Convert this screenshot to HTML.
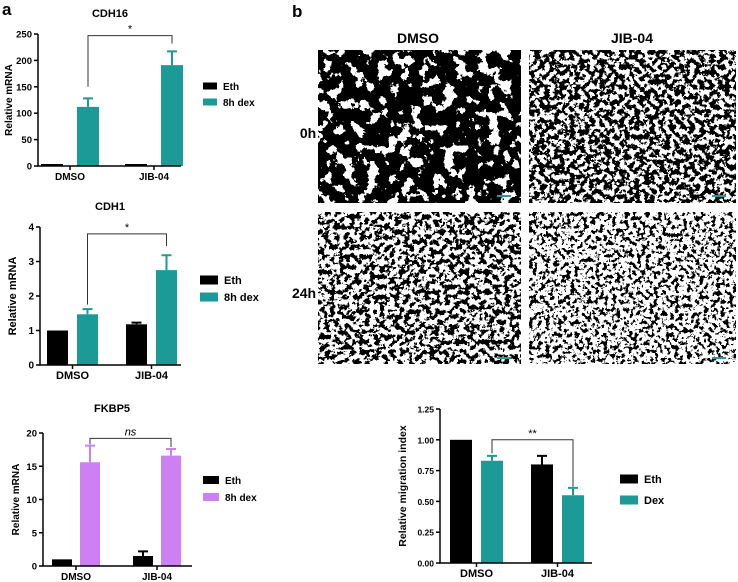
<!DOCTYPE html>
<html><head><meta charset="utf-8"><style>
body{margin:0;background:#fff;}
svg{display:block;font-family:"Liberation Sans",Arial,sans-serif;}
</style></head><body>
<svg id="fig" width="738" height="582" viewBox="0 0 738 582">
<defs>
<filter id="cellsA" x="0" y="0" width="1" height="1"><feTurbulence type="fractalNoise" baseFrequency="0.09" numOctaves="5" seed="3"/><feColorMatrix type="matrix" values="0 0 0 0 0 0 0 0 0 0 0 0 0 0 0 6 0 0 0 -2.0"/><feComponentTransfer><feFuncA type="discrete" tableValues="0 1"/></feComponentTransfer></filter>
<filter id="cellsB" x="0" y="0" width="1" height="1"><feTurbulence type="fractalNoise" baseFrequency="0.2" numOctaves="4" seed="7"/><feColorMatrix type="matrix" values="0 0 0 0 0 0 0 0 0 0 0 0 0 0 0 6 0 0 0 -2.45"/><feComponentTransfer><feFuncA type="discrete" tableValues="0 1"/></feComponentTransfer></filter>
<filter id="cellsC" x="0" y="0" width="1" height="1"><feTurbulence type="fractalNoise" baseFrequency="0.2" numOctaves="4" seed="11"/><feColorMatrix type="matrix" values="0 0 0 0 0 0 0 0 0 0 0 0 0 0 0 6 0 0 0 -2.6"/><feComponentTransfer><feFuncA type="discrete" tableValues="0 1"/></feComponentTransfer></filter>
<filter id="cellsD" x="0" y="0" width="1" height="1"><feTurbulence type="fractalNoise" baseFrequency="0.24" numOctaves="4" seed="19"/><feColorMatrix type="matrix" values="0 0 0 0 0 0 0 0 0 0 0 0 0 0 0 6 0 0 0 -2.8"/><feComponentTransfer><feFuncA type="discrete" tableValues="0 1"/></feComponentTransfer></filter>
</defs>
<text x="2" y="15" font-size="17" font-weight="bold">a</text>
<text x="292" y="17" font-size="17" font-weight="bold">b</text>
<text x="418" y="43" font-size="14" font-weight="bold" text-anchor="middle">DMSO</text>
<text x="632" y="43" font-size="14" font-weight="bold" text-anchor="middle">JIB-04</text>
<text x="308" y="138" font-size="14" font-weight="bold" text-anchor="middle">0h</text>
<text x="304" y="298" font-size="14" font-weight="bold" text-anchor="middle">24h</text>
<g><rect x="318" y="50" width="203" height="153" fill="#fff"/><rect x="318" y="50" width="203" height="153" filter="url(#cellsA)"/><rect x="497" y="195" width="14" height="2" fill="#2a9a98"/></g>
<g><rect x="529" y="50" width="207" height="153" fill="#fff"/><rect x="529" y="50" width="207" height="153" filter="url(#cellsB)"/><rect x="712" y="195" width="14" height="2" fill="#2a9a98"/></g>
<g><rect x="318" y="212" width="203" height="152" fill="#fff"/><rect x="318" y="212" width="203" height="152" filter="url(#cellsC)"/><rect x="497" y="357" width="14" height="2" fill="#2a9a98"/></g>
<g><rect x="529" y="212" width="207" height="152" fill="#fff"/><rect x="529" y="212" width="207" height="152" filter="url(#cellsD)"/><rect x="712" y="357" width="14" height="2" fill="#2a9a98"/></g>
<g id="charts"></g>
</svg>
<script>
const groups = ["DMSO", "JIB-04"];
const cdh16Eth = [1, 1];
const cdh16Dex = [112, 191];
const cdh16DexErr = [16, 26];
const cdh16EthErr = [0, 0];
const cdh16Ticks = [0, 50, 100, 150, 200, 250];
const cdh1Eth = [1.0, 1.18];
const cdh1EthErr = [0, 0.05];
const cdh1Dex = [1.47, 2.75];
const cdh1DexErr = [0.15, 0.43];
const cdh1Ticks = [0, 1, 2, 3, 4];
const fkbp5Eth = [1.0, 1.5];
const fkbp5EthErr = [0, 0.7];
const fkbp5Dex = [15.6, 16.6];
const fkbp5DexErr = [2.5, 1.0];
const fkbp5Ticks = [0, 5, 10, 15, 20];
const migEth = [1.0, 0.80];
const migEthErr = [0, 0.07];
const migDex = [0.83, 0.55];
const migDexErr = [0.04, 0.06];
const migTicks = ["0.00", "0.25", "0.50", "0.75", "1.00", "1.25"];

const NS = "http://www.w3.org/2000/svg";
const root = document.getElementById("charts");
function mk(tag, attrs, parent, text){
  const e = document.createElementNS(NS, tag);
  for (const k in attrs) e.setAttribute(k, attrs[k]);
  if (text !== undefined) e.textContent = text;
  (parent || root).appendChild(e);
  return e;
}
function chart(c){
  const g = mk("g", {});
  
  
  const tickNums = c.ticks.map(Number);
  const ymax = tickNums[tickNums.length - 1];
  const y = v => c.y0 - (v / ymax) * (c.y0 - c.yTop);
  const x = (gi, si) => c.x0 + c.groupStart + gi * c.groupStep + si * c.barStep;
  [[c.eth, c.ethErr, "#000"], [c.dex, c.dexErr, c.color]].forEach((s, si) => {
    s[0].forEach((v, gi) => {
      const bx = x(gi, si), by = Math.min(y(v), c.y0 - 2);
      const b = mk("rect", {x: bx, y: by, width: c.barW, height: c.y0 - by, fill: s[2]}, g);
      
      
      if (s[1][gi] > 0) {
        const cx = bx + c.barW / 2, ey = y(v + s[1][gi]);
        const eb = mk("path", {d: `M${cx},${by}V${ey}M${cx - 5},${ey}H${cx + 5}`, stroke: s[2], "stroke-width": 2, fill: "none"}, g);
        
        
      }
    });
  });
  const ax = mk("path", {d: `M${c.x0},${c.yTop}V${c.y0}H${c.xEnd}`, stroke: "#000", "stroke-width": 1.5, fill: "none"}, g);
  
  
  c.ticks.forEach(t => {
    const ty = y(Number(t));
    mk("line", {x1: c.x0 - 4, x2: c.x0, y1: ty, y2: ty, stroke: "#000", "stroke-width": 1.5}, g);
    const tl = mk("text", {x: c.x0 - 6, y: ty + 3.5, "font-size": c.tickFs, "font-weight": "bold", "text-anchor": "end"}, g, t);
    
    
  });
  groups.forEach((gn, gi) => {
    const cx = x(gi, 0) + (c.barStep + c.barW) / 2;
    mk("line", {x1: cx, x2: cx, y1: c.y0, y2: c.y0 + 4, stroke: "#000", "stroke-width": 1.5}, g);
    const xl = mk("text", {x: cx, y: c.y0 + 14, "font-size": c.labFs, "font-weight": "bold", "text-anchor": "middle"}, g, gn);
    
    
  });
  const yt = mk("text", {x: 0, y: 0, "font-size": c.ytFs, "font-weight": "bold", "text-anchor": "middle", transform: `translate(${c.ytX},${(c.y0 + c.yTop) / 2}) rotate(-90)`}, g, c.ytitle);
  
  
  if (c.title) {
    const tt = mk("text", {x: c.titleX, y: c.titleY, "font-size": 11, "font-weight": "bold", "text-anchor": "middle"}, g, c.title);
    
    
  }
  const lx = x(0, 1) + c.barW / 2, rx = x(1, 1) + c.barW / 2, byb = y(c.br[0]);
  const br = mk("path", {d: `M${lx},${y(c.br[1])}V${byb}H${rx}V${y(c.br[2])}`, stroke: "#333", "stroke-width": 1, fill: "none"}, g);
  
  
  const st = mk("text", {x: (lx + rx) / 2, y: byb - 3, "font-size": 11, "font-style": c.sig === "ns" ? "italic" : "normal", "text-anchor": "middle"}, g, c.sig);
  
  
  [["Eth", "#000"], [c.dexName, c.color]].forEach((l, i) => {
    const ly = c.legY + i * c.legGap;
    const sw = mk("rect", {x: c.legX, y: ly - c.swH / 2, width: c.swW, height: c.swH, fill: l[1]}, g);
    
    
    const lt = mk("text", {x: c.legX + c.swW + 6, y: ly + 4, "font-size": c.legFs, "font-weight": "bold"}, g, l[0]);
    
    
  });
}
const teal = "#1c9a98";
chart({name: "cdh16-chart", title: "CDH16", titleX: 110, titleY: 17, eth: cdh16Eth, ethErr: cdh16EthErr, dex: cdh16Dex, dexErr: cdh16DexErr, ticks: cdh16Ticks, color: teal, dexName: "8h dex",
  x0: 38, xEnd: 181, yTop: 34, y0: 166, groupStart: 3, groupStep: 84, barStep: 36, barW: 22, br: [247, 150, 232], sig: "*",
  ytX: 12, ytFs: 10, ytitle: "Relative mRNA", tickFs: 9.5, labFs: 10, legX: 203, legY: 86, legGap: 16, swW: 14, swH: 7, legFs: 10});
chart({name: "cdh1-chart", title: "CDH1", titleX: 110, titleY: 210, eth: cdh1Eth, ethErr: cdh1EthErr, dex: cdh1Dex, dexErr: cdh1DexErr, ticks: cdh1Ticks, color: teal, dexName: "8h dex",
  x0: 40, xEnd: 181, yTop: 227, y0: 365, groupStart: 7, groupStep: 79, barStep: 30, barW: 21, br: [3.8, 1.75, 3.45], sig: "*",
  ytX: 16, ytFs: 11, ytitle: "Relative mRNA", tickFs: 10, labFs: 11, legX: 200, legY: 280, legGap: 17, swW: 18, swH: 9, legFs: 11});
chart({name: "fkbp5-chart", title: "FKBP5", titleX: 112, titleY: 412, eth: fkbp5Eth, ethErr: fkbp5EthErr, dex: fkbp5Dex, dexErr: fkbp5DexErr, ticks: fkbp5Ticks, color: "#cc80f2", dexName: "8h dex",
  x0: 43, xEnd: 192, yTop: 433, y0: 566, groupStart: 9, groupStep: 81, barStep: 28, barW: 20, br: [19.2, 18.3, 17.9], sig: "ns",
  ytX: 19, ytFs: 10, ytitle: "Relative mRNA", tickFs: 9.5, labFs: 10, legX: 203, legY: 480, legGap: 17, swW: 16, swH: 8, legFs: 10});
chart({name: "migration-chart", title: "", eth: migEth, ethErr: migEthErr, dex: migDex, dexErr: migDexErr, ticks: migTicks, color: teal, dexName: "Dex",
  x0: 440, xEnd: 592, yTop: 409, y0: 563, groupStart: 10, groupStep: 81, barStep: 31, barW: 22, br: [1.0, 0.89, 0.62], sig: "**",
  ytX: 406, ytFs: 10.5, ytitle: "Relative migration index", tickFs: 8.5, labFs: 11, legX: 620, legY: 479, legGap: 21, swW: 18, swH: 9, legFs: 11});
</script>
</body></html>
